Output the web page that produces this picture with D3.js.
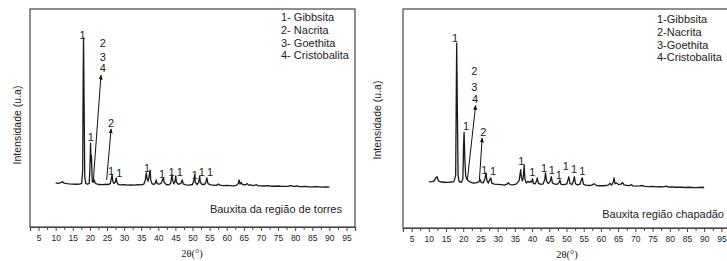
<!DOCTYPE html>
<html>
<head>
<meta charset="utf-8">
<script src="https://cdn.jsdelivr.net/npm/d3@7"></script>
<style>
  body { margin: 0; background: #fff; }
  svg { display: block; font-family: "Liberation Sans", Arial, sans-serif; }
</style>
</head>
<body>
<svg id="chart" width="727" height="261"></svg>
<script>
// 2θ ticks shared by both panels
const majorTicks = d3.range(5, 96, 5);
const minorTicks = d3.range(2.5, 98, 5);

// Bauxita da região de torres: [2θ, intensity (u.a)]
const torresPattern = [
  [10.0, 202], [10.8, 200], [11.5, 203], [12.0, 208], [12.5, 201], [13.3, 199], [14.0, 198],
  [15.0, 197], [16.0, 196], [17.0, 197], [17.6, 200], [17.9, 260], [18.05, 700], [18.15, 867],
  [18.3, 600], [18.5, 230], [18.8, 200], [19.3, 196], [19.8, 200], [20.0, 260], [20.2, 385],
  [20.32, 300], [20.45, 330], [20.7, 210], [21.0, 205], [21.3, 215], [21.6, 200], [22.5, 195],
  [23.5, 194], [24.5, 196], [25.5, 195], [26.0, 200], [26.3, 225], [26.5, 239], [26.7, 210],
  [27.0, 200], [27.4, 205], [27.7, 225], [27.9, 205], [28.3, 196], [29.0, 193], [30.0, 194],
  [31.0, 192], [32.0, 193], [33.0, 192], [34.0, 194], [35.0, 193], [35.8, 197], [36.2, 215],
  [36.5, 248], [36.7, 225], [37.0, 210], [37.3, 230], [37.6, 261], [37.8, 215], [38.2, 198],
  [38.8, 195], [39.2, 205], [39.4, 216], [39.6, 200], [40.2, 196], [40.8, 200], [41.2, 215],
  [41.5, 225], [41.7, 205], [42.3, 195], [43.0, 193], [43.6, 200], [44.0, 239], [44.2, 215],
  [44.5, 198], [44.9, 210], [45.1, 234], [45.3, 205], [45.9, 196], [46.6, 200], [47.0, 216],
  [47.3, 198], [48.0, 193], [49.0, 192], [50.0, 195], [50.4, 215], [50.6, 239], [50.8, 205],
  [51.3, 195], [51.8, 205], [52.1, 234], [52.3, 205], [52.8, 195], [53.5, 196], [53.9, 205],
  [54.2, 225], [54.5, 200], [55.2, 193], [56.0, 192], [57.0, 191], [57.5, 197], [58.0, 192],
  [59.0, 190], [60.0, 191], [61.0, 190], [62.0, 189], [62.8, 191], [63.4, 200], [63.6, 216],
  [63.9, 197], [64.3, 204], [64.6, 195], [65.4, 193], [66.0, 199], [66.4, 192], [67.0, 193],
  [67.8, 190], [68.7, 194], [69.2, 189], [70.0, 189], [71.0, 188], [72.0, 190], [73.0, 187],
  [74.0, 187], [75.0, 188], [76.0, 186], [77.0, 186], [78.0, 187], [78.8, 190], [79.4, 186],
  [80.0, 186], [80.6, 189], [81.2, 185], [82.0, 185], [83.0, 186], [84.0, 184], [85.0, 184],
  [86.0, 185], [87.0, 184], [88.0, 183], [89.0, 184], [90.0, 183]
];

// Bauxita região chapadão: [2θ, intensity (u.a)]
const chapadaoPattern = [
  [10.0, 211], [10.8, 212], [11.5, 214], [12.0, 228], [12.4, 234], [12.8, 215], [13.5, 210],
  [14.5, 209], [15.5, 208], [16.5, 210], [17.3, 212], [17.8, 240], [18.0, 650], [18.1, 844],
  [18.25, 600], [18.5, 240], [18.8, 212], [19.4, 208], [19.9, 225], [20.1, 380], [20.25, 436],
  [20.45, 320], [20.7, 240], [21.0, 225], [21.5, 215], [22.0, 210], [23.0, 205], [24.0, 207],
  [24.6, 212], [24.9, 222], [25.2, 209], [25.8, 206], [26.3, 225], [26.6, 252], [26.9, 215],
  [27.3, 205], [27.7, 220], [28.0, 229], [28.3, 205], [29.0, 200], [30.0, 199], [31.0, 198],
  [32.0, 196], [32.7, 200], [33.1, 207], [33.6, 198], [34.5, 197], [35.3, 200], [35.7, 206],
  [36.2, 215], [36.5, 245], [36.7, 266], [36.9, 230], [37.2, 215], [37.5, 240], [37.7, 289],
  [37.9, 225], [38.3, 205], [38.8, 212], [39.3, 208], [39.6, 213], [39.9, 210], [40.1, 225],
  [40.4, 203], [40.9, 202], [41.3, 215], [41.5, 229], [41.8, 205], [42.5, 199], [43.2, 201],
  [43.7, 222], [43.9, 252], [44.2, 214], [44.7, 203], [45.3, 215], [45.6, 234], [45.9, 206],
  [46.6, 200], [47.3, 199], [47.8, 207], [48.1, 220], [48.4, 199], [49.2, 198], [50.1, 202],
  [50.5, 224], [50.7, 234], [51.0, 204], [51.6, 198], [52.0, 215], [52.3, 234], [52.6, 202],
  [53.2, 197], [53.9, 200], [54.3, 220], [54.6, 229], [54.9, 200], [55.6, 196], [56.5, 194],
  [57.3, 196], [58.0, 202], [58.6, 195], [59.5, 193], [60.5, 193], [61.5, 194], [62.2, 197],
  [62.6, 204], [63.1, 196], [63.6, 210], [63.8, 229], [64.1, 202], [64.6, 206], [65.1, 198],
  [65.8, 200], [66.3, 208], [66.7, 197], [67.5, 195], [68.3, 193], [68.8, 199], [69.3, 192],
  [70.3, 191], [71.3, 192], [72.0, 194], [72.8, 190], [74.0, 189], [75.0, 190], [76.0, 188],
  [77.0, 189], [78.2, 188], [79.0, 191], [79.6, 187], [80.5, 188], [81.5, 186], [82.5, 187],
  [83.5, 186], [84.5, 185], [85.5, 186], [86.5, 185], [87.5, 184], [88.5, 185], [89.3, 186],
  [90.0, 185]
];

// phase labels: [text, 2θ, intensity]
const torresLabels = [
  ["1", 17.9, 878], ["2", 23.75, 843], ["3", 23.75, 779], ["4", 23.75, 727],
  ["1", 20.24, 413], ["2", 26.2, 477], ["1", 26.2, 258], ["1", 28.6, 248],
  ["1", 36.7, 269], ["1", 41.1, 242], ["1", 43.9, 251], ["1", 46.3, 251],
  ["1", 50.7, 239], ["1", 52.7, 251], ["1", 55.1, 251]
];
const chapadaoLabels = [
  ["1", 17.6, 866], ["2", 23.2, 714], ["3", 23.2, 645], ["4", 23.4, 587],
  ["1", 20.8, 463], ["2", 25.8, 437], ["1", 26.1, 263], ["1", 28.7, 261],
  ["1", 36.9, 307], ["1", 40.1, 256], ["1", 43.5, 274], ["1", 45.7, 266],
  ["1", 47.8, 240], ["1", 49.8, 281], ["1", 52.2, 269], ["1", 54.6, 261]
];

// arrows: [2θ from, intensity from, 2θ to, intensity to]
const torresArrows = [[21.0, 211, 23.25, 697], [24.9, 216, 26.2, 450]];
const chapadaoArrows = [[21.2, 220, 23.6, 560], [24.7, 220, 25.5, 411]];

const torresLegend = ["1- Gibbsita", "2- Nacrita", "3- Goethita", "4- Cristobalita"];
const chapadaoLegend = ["1-Gibbsita", "2-Nacrita", "3-Goethita", "4-Cristobalita"];

const svg = d3.select("#chart");

svg.append("defs").append("marker")
  .attr("id", "arrow")
  .attr("viewBox", "0 0 10 10")
  .attr("refX", 9).attr("refY", 5)
  .attr("markerWidth", 5).attr("markerHeight", 5)
  .attr("orient", "auto")
  .append("path")
  .attr("d", "M0,1 L10,5 L0,9 Z")
  .attr("fill", "#111");

function drawPanel(p) {
  const x = d3.scaleLinear().domain([2.5, 97.5]).range([p.left, p.right]);
  const y = d3.scaleLinear().domain([0, 1000]).range([p.bottom, 9]);
  const g = svg.append("g");

  // frame
  g.append("rect")
    .attr("x", p.left).attr("y", 9)
    .attr("width", p.right - p.left).attr("height", p.bottom - 9)
    .attr("fill", "none").attr("stroke", "#444").attr("stroke-width", 1.2);

  // minor ticks
  g.append("g")
    .attr("transform", `translate(0,${p.bottom})`)
    .call(d3.axisBottom(x).tickValues(minorTicks).tickSize(3).tickFormat(""))
    .call((a) => a.select(".domain").remove())
    .selectAll("line").attr("stroke", "#444");

  // major ticks + labels
  const ax = g.append("g")
    .attr("transform", `translate(0,${p.bottom})`)
    .call(d3.axisBottom(x).tickValues(majorTicks).tickSize(4).tickPadding(4).tickFormat(d3.format("d")));
  ax.select(".domain").attr("stroke", "#444").attr("stroke-width", 1.2);
  ax.selectAll("line").attr("stroke", "#444");
  ax.selectAll("text")
    .attr("font-family", "Liberation Sans, Arial, sans-serif")
    .attr("font-size", 8.5).attr("fill", "#222");

  // pattern line
  g.append("path")
    .datum(p.pattern)
    .attr("fill", "none")
    .attr("stroke", "#1a1a1a")
    .attr("stroke-width", 1.3)
    .attr("stroke-linejoin", "round")
    .attr("d", d3.line().x((d) => x(d[0])).y((d) => y(d[1])));

  // arrows
  g.selectAll(".arrow")
    .data(p.arrows)
    .join("line")
    .attr("x1", (d) => x(d[0])).attr("y1", (d) => y(d[1]))
    .attr("x2", (d) => x(d[2])).attr("y2", (d) => y(d[3]))
    .attr("stroke", "#111").attr("stroke-width", 1)
    .attr("marker-end", "url(#arrow)");

  // phase numbers
  g.selectAll(".lbl")
    .data(p.labels)
    .join("text")
    .attr("x", (d) => x(d[1])).attr("y", (d) => y(d[2]))
    .attr("dy", "0.35em")
    .attr("text-anchor", "middle")
    .attr("font-size", 11)
    .attr("fill", "#222")
    .text((d) => d[0]);

  // legend
  g.selectAll(".leg")
    .data(p.legend)
    .join("text")
    .attr("x", p.legendX)
    .attr("y", (d, i) => p.legendY + i * 12.8)
    .attr("font-size", 11)
    .attr("fill", "#222")
    .text((d) => d);

  // sample name
  g.append("text")
    .attr("x", p.nameX).attr("y", p.nameY)
    .attr("text-anchor", "end")
    .attr("font-size", 11)
    .attr("fill", "#222")
    .text(p.name);

  // axis titles
  g.append("text")
    .attr("transform", `translate(${p.yLabelX},${p.yLabelY}) rotate(-90)`)
    .attr("text-anchor", "middle")
    .attr("font-size", 10.5)
    .attr("fill", "#222")
    .text("Intensidade (u.a)");

  g.append("text")
    .attr("x", p.xLabelX).attr("y", p.bottom + 30)
    .attr("text-anchor", "middle")
    .attr("font-family", "Liberation Serif, Times New Roman, serif")
    .attr("font-size", 10.5)
    .attr("fill", "#222")
    .text("2θ(°)");
}

drawPanel({
  left: 30, right: 355, bottom: 227,
  pattern: torresPattern, labels: torresLabels, arrows: torresArrows,
  legend: torresLegend, legendX: 281, legendY: 21,
  name: "Bauxita da região de torres", nameX: 342, nameY: 213,
  yLabelX: 21, yLabelY: 125, xLabelX: 192
});

drawPanel({
  left: 403, right: 730, bottom: 228,
  pattern: chapadaoPattern, labels: chapadaoLabels, arrows: chapadaoArrows,
  legend: chapadaoLegend, legendX: 657, legendY: 23,
  name: "Bauxita região chapadão", nameX: 724, nameY: 218,
  yLabelX: 381, yLabelY: 120, xLabelX: 567
});
</script>
</body>
</html>
